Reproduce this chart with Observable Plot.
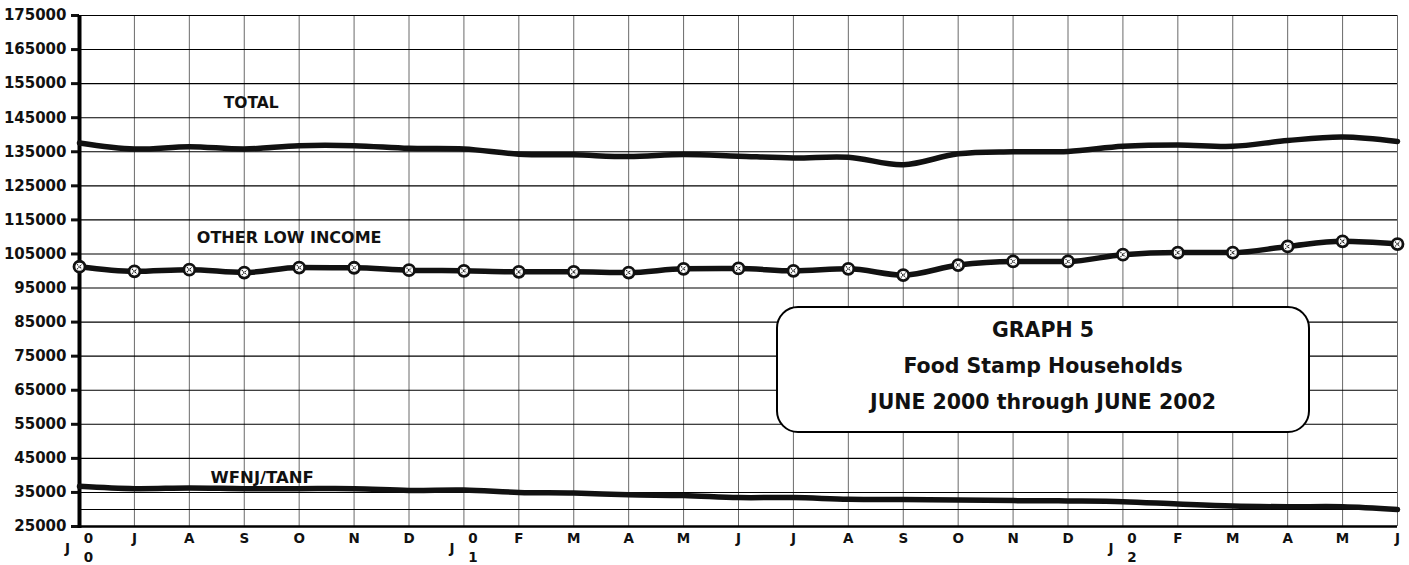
<!DOCTYPE html>
<html>
<head>
<meta charset="utf-8">
<script src="https://cdn.jsdelivr.net/npm/d3@7"></script>
<script src="https://cdn.jsdelivr.net/npm/@observablehq/plot@0.6"></script>
<style>
  html, body { margin: 0; padding: 0; background: #fff; }
  #wrap { position: relative; width: 1409px; height: 565px; overflow: hidden; }
  #box {
    position: absolute; left: 776px; top: 306px; width: 530px; height: 123px;
    border: 2.5px solid #000; border-radius: 22px; background: #fff;
    font-family: "DejaVu Sans", sans-serif; font-weight: bold; font-size: 20.5px;
    text-align: center; color: #111;
  }
  #box div { position: absolute; left: 0; right: 0; }
</style>
</head>
<body>
<div id="wrap"></div>
<script>
const months = ["2000-06","2000-07","2000-08","2000-09","2000-10","2000-11","2000-12",
  "2001-01","2001-02","2001-03","2001-04","2001-05","2001-06","2001-07","2001-08","2001-09","2001-10","2001-11","2001-12",
  "2002-01","2002-02","2002-03","2002-04","2002-05","2002-06"];
const tickLetters = ["J","J","A","S","O","N","D","J","F","M","A","M","J","J","A","S","O","N","D","J","F","M","A","M","J"];
const tickYears = ["00",null,null,null,null,null,null,"01",null,null,null,null,null,null,null,null,null,null,null,"02",null,null,null,null,null];
const total = [137600,135800,136500,135800,136800,136800,136000,135800,134300,134100,133600,134200,133700,133200,133400,131200,134400,135000,135100,136600,137000,136600,138300,139300,138000];
const otherLowIncome = [101250,99900,100400,99550,101000,100950,100250,100050,99750,99750,99550,100650,100750,100050,100650,98800,101750,102800,102800,104800,105400,105400,107200,108700,107900];
const wfnjTanf = [36800,36100,36300,36100,36100,36100,35600,35700,35000,34800,34300,34100,33500,33500,33000,32900,32800,32600,32500,32300,31600,31000,30800,30800,30000];
const yTicks = [25000,35000,45000,55000,65000,75000,85000,95000,105000,115000,125000,135000,145000,155000,165000,175000];
const yGrid = [25000,30000,35000,45000,55000,65000,75000,85000,95000,105000,115000,125000,135000,145000,155000,165000,175000];
const seriesLabels = [
  {text: "TOTAL", month: "2000-09", value: 149300, dx: 7, size: 15.5},
  {text: "OTHER LOW INCOME", month: "2000-10", value: 109800, dx: -10, size: 16},
  {text: "WFNJ/TANF", month: "2000-09", value: 39300, dx: 18, size: 16.5}
];
const titleLines = ["GRAPH 5", "Food Stamp Households", "JUNE 2000 through JUNE 2002"];

const rows = months.map((m, i) => ({month: m, total: total[i], other: otherLowIncome[i], wfnj: wfnjTanf[i], letter: tickLetters[i], year: tickYears[i]}));
const yearRows = rows.filter(d => d.year);
const plainRows = rows.filter(d => !d.year);
const yMin = yTicks[0], yMax = yTicks[yTicks.length - 1];

const labelMarks = seriesLabels.map(l => Plot.text([l], {x: "month", y: "value", text: "text", dx: l.dx, fontSize: l.size, fontWeight: "bold", fill: "#111"}));

const chart = Plot.plot({
  width: 1409,
  height: 565,
  marginLeft: 79,
  marginRight: 12,
  marginTop: 15,
  marginBottom: 39,
  style: {fontFamily: "'DejaVu Sans', sans-serif", fontWeight: "bold", fontSize: "15px", color: "#111", background: "#fff"},
  x: {type: "point", domain: months, padding: 0, round: false, axis: null},
  y: {domain: [yMin, yMax], axis: null},
  marks: [
    Plot.ruleX(months, {x: d => d, y1: yMin, y2: yMax, stroke: "#444", strokeWidth: 0.8}),
    Plot.ruleY(yGrid, {stroke: "#000", strokeWidth: 1.1}),
    Plot.axisY(yTicks, {tickSize: 8, tickPadding: 5, strokeWidth: 3, tickFormat: d => String(d), fontSize: 15, fontWeight: "bold"}),
    Plot.ruleY([yMin], {stroke: "#000", strokeWidth: 2.5}),
    Plot.ruleX([months[0]], {x: d => d, y1: yMin - 600, y2: yMax, stroke: "#000", strokeWidth: 4}),
    Plot.line(rows, {x: "month", y: "total", stroke: "#111", strokeWidth: 5.5, curve: "catmull-rom"}),
    Plot.line(rows, {x: "month", y: "wfnj", stroke: "#111", strokeWidth: 5.5, curve: "catmull-rom"}),
    Plot.line(rows, {x: "month", y: "other", stroke: "#111", strokeWidth: 5.5, curve: "monotone-x"}),
    Plot.dot(rows, {x: "month", y: "other", r: 5.5, fill: "#fff", stroke: "#111", strokeWidth: 2.8}),
    Plot.dot(rows, {x: "month", y: "other", r: 2.3, symbol: "times", stroke: "#111", strokeWidth: 1.1, strokeDasharray: "1.2 0.9"}),
    ...labelMarks,
    Plot.text(plainRows, {x: "month", y: yMin, text: "letter", dy: 12, fontSize: 13.5, fontWeight: "bold", fill: "#111"}),
    Plot.text(yearRows, {x: "month", y: yMin, text: d => d.year[0], dx: 9, dy: 12, fontSize: 13.5, fontWeight: "bold", fill: "#111"}),
    Plot.text(yearRows, {x: "month", y: yMin, text: "letter", dx: -12, dy: 22, fontSize: 13.5, fontWeight: "bold", fill: "#111"}),
    Plot.text(yearRows, {x: "month", y: yMin, text: d => d.year[1], dx: 9, dy: 31, fontSize: 13.5, fontWeight: "bold", fill: "#111"})
  ]
});
const wrap = document.getElementById("wrap");
wrap.appendChild(chart);
const box = document.createElement("div");
box.id = "box";
titleLines.forEach((t, i) => {
  const d = document.createElement("div");
  d.textContent = t;
  d.style.top = (10 + i * 36) + "px";
  box.appendChild(d);
});
wrap.appendChild(box);
</script>
</body>
</html>
